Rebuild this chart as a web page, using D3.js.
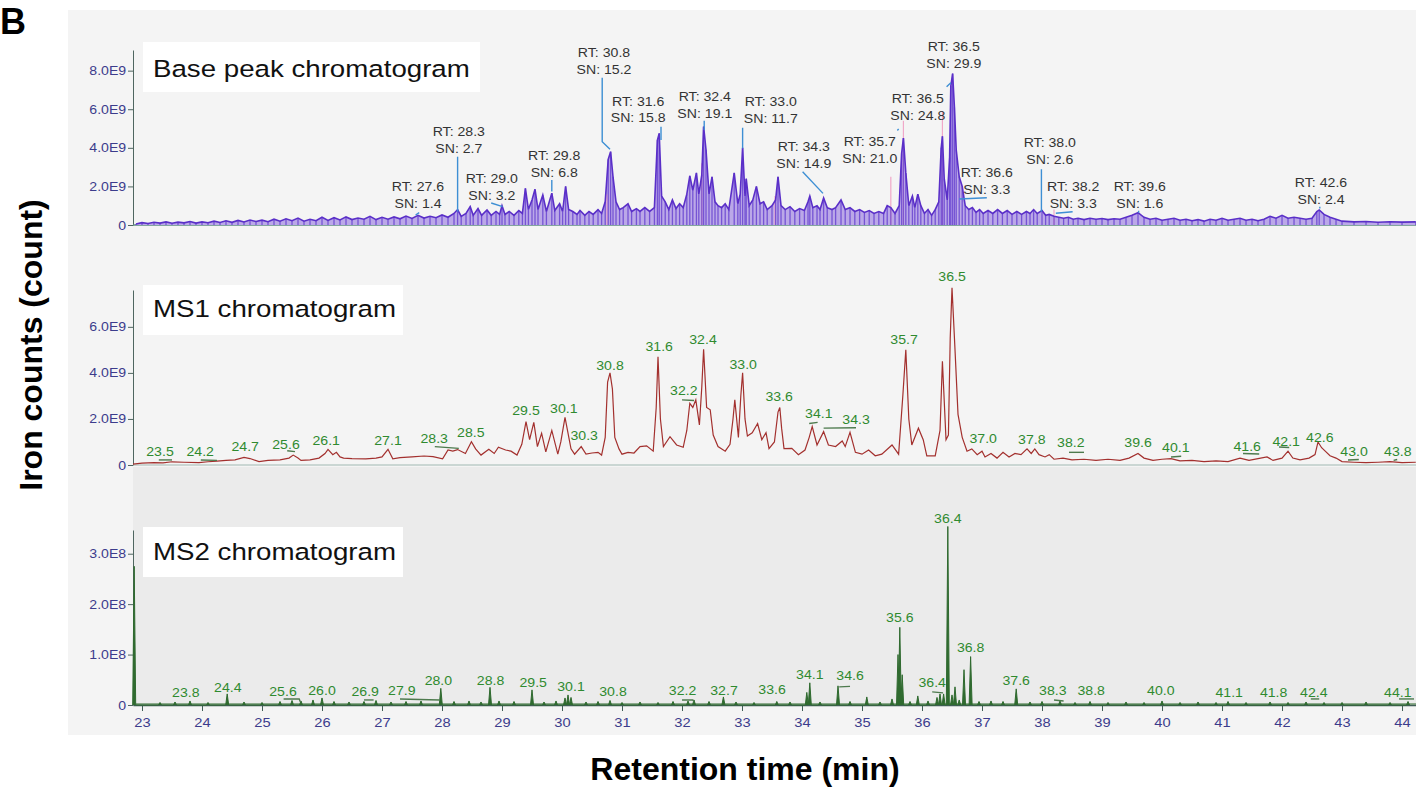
<!DOCTYPE html>
<html>
<head>
<meta charset="utf-8">
<script src="https://cdn.jsdelivr.net/npm/d3@7/dist/d3.min.js"></script>
<style>
  body { margin: 0; background: #fff; }
  text { font-family: "Liberation Sans", Arial, sans-serif; }
</style>
</head>
<body>
<svg id="chart" width="1416" height="787"></svg>
<script>
// ---- data (retention time in min, intensity in E9 / E8) ----
var rtTicks = d3.range(23, 45, 1);
var baseTicks = [0, 2, 4, 6, 8];
var ms1Ticks = [0, 2, 4, 6];
var ms2Ticks = [0, 1, 2, 3];

// base peak chromatogram, E9
var basePeak = [[22.9,0.05],[23.0,0.12],[23.1,0.08],[23.2,0.14],[23.3,0.1],[23.4,0.16],[23.5,0.09],[23.6,0.15],[23.7,0.11],[23.8,0.18],[23.9,0.1],[24.0,0.16],[24.1,0.12],[24.2,0.2],[24.3,0.13],[24.4,0.22],[24.5,0.14],[24.6,0.24],[24.7,0.16],[24.8,0.26],[24.9,0.18],[25.0,0.25],[25.1,0.17],[25.2,0.3],[25.3,0.2],[25.4,0.32],[25.5,0.22],[25.6,0.36],[25.7,0.2],[25.8,0.3],[25.9,0.22],[26.0,0.4],[26.1,0.24],[26.2,0.38],[26.3,0.26],[26.4,0.42],[26.5,0.28],[26.6,0.36],[26.7,0.3],[26.8,0.45],[26.9,0.28],[27.0,0.4],[27.1,0.3],[27.2,0.42],[27.3,0.32],[27.4,0.46],[27.5,0.34],[27.6,0.5],[27.7,0.36],[27.8,0.45],[27.9,0.38],[28.0,0.52],[28.1,0.4],[28.2,0.6],[28.26,0.8],[28.32,0.45],[28.4,0.6],[28.47,0.95],[28.52,0.5],[28.6,0.85],[28.66,0.5],[28.75,0.78],[28.82,0.5],[28.9,0.7],[28.96,0.55],[29.0,1.0],[29.05,0.55],[29.12,0.7],[29.2,0.5],[29.28,0.75],[29.34,0.6],[29.39,1.9],[29.44,0.8],[29.5,1.3],[29.55,1.85],[29.6,0.8],[29.68,1.55],[29.74,0.7],[29.83,1.65],[29.88,0.75],[29.96,1.1],[30.01,0.7],[30.06,2.0],[30.11,0.8],[30.18,0.7],[30.25,0.55],[30.3,0.75],[30.38,0.5],[30.45,0.7],[30.52,0.55],[30.6,0.8],[30.66,0.6],[30.72,1.2],[30.77,3.4],[30.81,3.8],[30.85,2.5],[30.9,1.2],[30.96,0.8],[31.02,0.9],[31.1,1.1],[31.16,0.7],[31.24,0.85],[31.3,0.7],[31.38,0.9],[31.46,0.7],[31.54,0.9],[31.59,4.4],[31.62,4.75],[31.66,1.5],[31.72,1.2],[31.78,0.8],[31.84,1.3],[31.9,0.85],[31.96,1.1],[32.02,0.9],[32.08,1.6],[32.13,2.55],[32.18,1.8],[32.24,2.7],[32.28,1.6],[32.33,2.6],[32.36,5.1],[32.4,3.9],[32.45,1.6],[32.5,2.5],[32.55,1.2],[32.6,1.0],[32.66,0.9],[32.72,1.1],[32.78,0.8],[32.87,2.7],[32.93,1.1],[32.97,1.6],[33.01,4.0],[33.05,1.5],[33.07,2.4],[33.12,1.0],[33.18,1.3],[33.24,2.0],[33.3,1.1],[33.36,1.2],[33.42,0.8],[33.5,1.0],[33.56,1.3],[33.6,2.5],[33.65,1.0],[33.72,0.8],[33.8,0.95],[33.88,0.7],[33.96,0.85],[34.04,0.75],[34.1,1.2],[34.13,1.5],[34.18,0.9],[34.25,1.0],[34.3,0.8],[34.36,1.4],[34.42,0.9],[34.5,0.8],[34.56,0.9],[34.65,1.3],[34.72,0.8],[34.8,0.9],[34.88,0.7],[34.96,0.8],[35.04,0.65],[35.12,0.75],[35.2,0.6],[35.28,0.7],[35.36,0.6],[35.42,1.0],[35.48,0.9],[35.55,0.6],[35.62,1.0],[35.66,3.7],[35.69,4.5],[35.73,2.7],[35.78,1.0],[35.84,1.5],[35.88,0.9],[35.93,1.6],[35.98,1.0],[36.04,0.6],[36.1,0.8],[36.16,0.5],[36.22,0.8],[36.28,1.2],[36.32,4.0],[36.34,4.6],[36.37,2.4],[36.42,1.3],[36.46,3.5],[36.48,7.2],[36.51,7.85],[36.54,6.1],[36.57,3.9],[36.62,2.5],[36.67,2.0],[36.72,1.0],[36.78,0.8],[36.84,0.9],[36.9,0.65],[36.96,0.8],[37.02,0.6],[37.1,0.75],[37.18,0.6],[37.26,0.8],[37.34,0.6],[37.42,0.75],[37.5,0.55],[37.58,0.7],[37.66,0.55],[37.74,0.7],[37.8,0.6],[37.86,0.8],[37.92,0.6],[38.0,0.75],[38.06,0.5],[38.12,0.55],[38.2,0.45],[38.28,0.4],[38.36,0.35],[38.44,0.4],[38.52,0.3],[38.6,0.35],[38.7,0.28],[38.8,0.35],[38.9,0.3],[39.0,0.34],[39.1,0.28],[39.2,0.32],[39.3,0.3],[39.4,0.4],[39.5,0.5],[39.6,0.64],[39.7,0.4],[39.8,0.3],[39.9,0.35],[40.0,0.25],[40.1,0.3],[40.2,0.35],[40.3,0.25],[40.4,0.3],[40.5,0.22],[40.6,0.28],[40.7,0.2],[40.8,0.3],[40.9,0.25],[41.0,0.35],[41.1,0.25],[41.2,0.3],[41.3,0.35],[41.4,0.25],[41.5,0.3],[41.6,0.22],[41.7,0.3],[41.8,0.45],[41.9,0.35],[42.0,0.5],[42.1,0.35],[42.2,0.4],[42.3,0.35],[42.4,0.3],[42.5,0.35],[42.58,0.7],[42.62,0.78],[42.7,0.55],[42.8,0.4],[42.9,0.3],[43.0,0.2],[43.2,0.16],[43.4,0.18],[43.6,0.14],[43.8,0.17],[44.0,0.15],[44.23,0.16]];

// faint pink traces seen behind the base peak trace, E9
var pinkSticks = [[30.75,1.6],[32.33,3.2],[33.55,1.5],[35.48,2.5],[35.69,5.4],[36.34,5.9],[38.2,0.8]];

// MS1 chromatogram, E9
var ms1 = [[22.85,0.04],[23.0,0.08],[23.2,0.1],[23.35,0.09],[23.5,0.14],[23.7,0.12],[23.95,0.1],[24.1,0.14],[24.25,0.17],[24.4,0.2],[24.55,0.22],[24.7,0.33],[24.8,0.28],[24.95,0.15],[25.1,0.2],[25.3,0.22],[25.45,0.3],[25.52,0.43],[25.6,0.3],[25.65,0.2],[25.8,0.22],[25.95,0.3],[26.05,0.5],[26.1,0.68],[26.18,0.45],[26.24,0.55],[26.3,0.35],[26.36,0.3],[26.5,0.28],[26.73,0.27],[26.9,0.3],[27.0,0.35],[27.1,0.68],[27.18,0.27],[27.3,0.32],[27.5,0.35],[27.7,0.39],[27.85,0.36],[28.01,0.27],[28.1,0.65],[28.18,0.6],[28.26,0.67],[28.39,0.5],[28.49,1.01],[28.56,0.7],[28.65,0.43],[28.78,0.68],[28.87,0.5],[28.94,0.77],[29.06,0.65],[29.15,0.6],[29.25,0.43],[29.33,0.9],[29.4,1.88],[29.46,1.1],[29.53,1.85],[29.59,0.8],[29.66,1.38],[29.73,0.57],[29.83,1.5],[29.93,0.47],[29.98,1.0],[30.05,2.07],[30.15,0.7],[30.21,0.47],[30.32,0.8],[30.4,0.47],[30.5,0.52],[30.6,0.55],[30.66,0.43],[30.72,1.2],[30.76,3.6],[30.8,4.0],[30.84,3.3],[30.88,1.2],[30.95,0.7],[31.0,0.47],[31.1,0.55],[31.2,0.52],[31.3,0.8],[31.41,0.83],[31.52,0.6],[31.57,2.5],[31.6,4.7],[31.64,2.0],[31.69,0.8],[31.8,1.23],[31.91,0.87],[32.02,0.77],[32.08,1.5],[32.13,2.68],[32.18,2.5],[32.23,2.83],[32.29,1.74],[32.33,3.4],[32.36,5.03],[32.41,2.5],[32.47,2.4],[32.52,1.3],[32.6,0.8],[32.72,0.6],[32.8,0.9],[32.85,2.0],[32.88,2.83],[32.94,1.2],[32.98,3.0],[33.01,4.0],[33.05,2.0],[33.09,1.26],[33.17,1.4],[33.26,1.8],[33.33,1.1],[33.4,1.4],[33.45,0.71],[33.54,1.0],[33.6,2.3],[33.63,2.5],[33.66,1.6],[33.7,0.71],[33.83,0.72],[33.94,0.45],[34.05,0.65],[34.12,1.2],[34.17,1.67],[34.25,0.87],[34.36,1.45],[34.44,0.87],[34.56,0.8],[34.67,1.04],[34.72,0.8],[34.8,1.42],[34.89,0.55],[35.0,0.47],[35.11,0.65],[35.22,0.4],[35.33,0.47],[35.5,0.87],[35.61,0.47],[35.68,3.0],[35.73,5.0],[35.78,2.0],[35.83,0.87],[35.94,1.6],[36.02,1.1],[36.08,0.4],[36.22,0.4],[36.3,1.5],[36.34,4.5],[36.4,1.1],[36.44,1.3],[36.47,5.5],[36.5,7.7],[36.55,5.0],[36.6,2.2],[36.67,1.2],[36.75,0.6],[36.83,0.7],[36.92,0.45],[37.0,0.6],[37.05,0.35],[37.15,0.5],[37.25,0.3],[37.35,0.55],[37.45,0.35],[37.55,0.5],[37.65,0.45],[37.75,0.7],[37.82,0.5],[37.88,0.7],[37.95,0.45],[38.05,0.35],[38.12,0.45],[38.2,0.25],[38.35,0.3],[38.5,0.22],[38.7,0.25],[38.9,0.2],[39.1,0.25],[39.3,0.2],[39.45,0.3],[39.6,0.5],[39.7,0.3],[39.85,0.2],[40.0,0.25],[40.15,0.28],[40.3,0.18],[40.5,0.2],[40.7,0.15],[40.9,0.18],[41.1,0.15],[41.3,0.3],[41.45,0.2],[41.6,0.28],[41.75,0.35],[41.85,0.2],[42.0,0.3],[42.1,0.6],[42.18,0.3],[42.3,0.22],[42.45,0.3],[42.55,0.45],[42.6,1.0],[42.66,0.75],[42.72,0.6],[42.8,0.4],[42.9,0.3],[43.0,0.15],[43.2,0.12],[43.4,0.1],[43.6,0.12],[43.8,0.15],[44.0,0.1],[44.23,0.12]];

// MS2 chromatogram peaks, E8
var ms2Peaks = [[22.87,2.75],[23.3,0.05],[23.55,0.06],[23.8,0.08],[24.1,0.05],[24.42,0.22],[24.7,0.06],[25.0,0.05],[25.3,0.07],[25.5,0.09],[25.65,0.08],[25.85,0.1],[26.0,0.14],[26.2,0.07],[26.45,0.06],[26.7,0.07],[26.9,0.09],[27.15,0.06],[27.4,0.07],[27.65,0.08],[27.98,0.33],[28.2,0.07],[28.45,0.08],[28.65,0.06],[28.8,0.35],[28.95,0.08],[29.2,0.07],[29.5,0.3],[29.7,0.06],[29.9,0.08],[30.05,0.14],[30.1,0.2],[30.15,0.15],[30.4,0.06],[30.6,0.07],[30.8,0.09],[31.0,0.05],[31.3,0.06],[31.6,0.05],[31.85,0.07],[32.1,0.08],[32.2,0.1],[32.45,0.07],[32.69,0.16],[32.9,0.06],[33.2,0.05],[33.58,0.07],[33.8,0.06],[34.08,0.25],[34.13,0.44],[34.3,0.06],[34.6,0.38],[34.8,0.07],[35.08,0.16],[35.3,0.06],[35.5,0.12],[35.6,1.0],[35.63,1.54],[35.67,0.6],[35.8,0.07],[35.93,0.18],[36.1,0.08],[36.25,0.15],[36.3,0.22],[36.36,0.22],[36.43,3.54],[36.5,0.2],[36.55,0.36],[36.62,0.1],[36.7,0.7],[36.81,0.96],[36.95,0.07],[37.15,0.08],[37.35,0.07],[37.57,0.32],[37.8,0.06],[38.0,0.07],[38.3,0.08],[38.55,0.05],[38.8,0.07],[39.1,0.05],[39.4,0.06],[39.7,0.05],[40.0,0.08],[40.3,0.05],[40.6,0.06],[40.9,0.05],[41.1,0.07],[41.4,0.05],[41.8,0.06],[42.1,0.05],[42.4,0.06],[42.7,0.05],[43.0,0.05],[43.4,0.06],[43.8,0.05],[44.1,0.07]];

// base peak annotations: RT, SN, label time, label level (E9)
var baseLabels = [["27.6","1.4",27.6,1.98],["28.3","2.7",28.28,4.83],["29.0","3.2",28.83,2.38],["29.8","6.8",29.87,3.58],["30.8","15.2",30.7,8.91],["31.6","15.8",31.27,6.42],["32.4","19.1",32.38,6.63],["33.0","11.7",33.48,6.37],["34.3","14.9",34.03,4.04],["35.7","21.0",35.13,4.3],["36.5","24.8",35.93,6.53],["36.5","29.9",36.53,9.22],["36.6","3.3",37.08,2.69],["38.0","2.6",38.13,4.25],["38.2","3.3",38.52,1.97],["39.6","1.6",39.63,1.97],["42.6","2.4",42.65,2.18]];
// leader lines, list of [t, v] points
var baseLeaders = [[[27.56,0.52],[27.62,0.64]],[[28.26,3.54],[28.26,0.69]],[[28.82,1.14],[29.01,0.95]],[[29.83,2.33],[29.83,1.73]],[[30.67,7.63],[30.67,4.32],[30.8,3.92]],[[31.65,5.09],[31.65,4.4]],[[32.37,5.4],[32.37,4.92]],[[33.01,5.04],[33.01,3.97]],[[34.01,2.76],[34.35,1.64]],[[35.59,4.9],[35.61,4.98]],[[36.41,7.17],[36.48,7.37]],[[36.62,1.35],[37.08,1.41]],[[37.99,2.89],[37.99,0.69]],[[38.23,0.61],[38.51,0.69]],[[39.61,0.64],[39.61,0.74]],[[42.63,0.85],[42.63,0.95]]];

// MS1 peak labels: text, label time, label level (E9)
var ms1Labels = [["23.5",23.3,0.57],["24.2",23.97,0.57],["24.7",24.72,0.78],["25.6",25.4,0.87],["26.1",26.07,1.04],["27.1",27.1,1.04],["28.3",27.87,1.13],["28.5",28.48,1.39],["29.5",29.4,2.35],["30.1",30.03,2.43],["30.3",30.37,1.26],["30.8",30.8,4.3],["31.6",31.62,5.13],["32.2",32.03,3.22],["32.4",32.35,5.43],["33.0",33.02,4.35],["33.6",33.62,2.96],["34.1",34.28,2.22],["34.3",34.9,1.96],["35.7",35.7,5.43],["36.5",36.5,8.17],["37.0",37.02,1.13],["37.8",37.83,1.09],["38.2",38.48,0.96],["39.6",39.6,0.96],["40.1",40.23,0.74],["41.6",41.42,0.78],["42.1",42.07,1.0],["42.6",42.63,1.17],["43.0",43.2,0.57],["43.8",43.93,0.57]];
var ms1Leaders = [[[23.28,0.22],[23.5,0.22]],[[23.98,0.22],[24.25,0.2]],[[25.42,0.62],[25.55,0.58]],[[27.88,0.8],[28.28,0.72]],[[32.0,2.83],[32.2,2.8]],[[34.12,1.8],[34.26,1.85]],[[34.36,1.6],[34.9,1.62]],[[38.45,0.55],[38.7,0.55]],[[40.15,0.35],[40.32,0.38]],[[41.35,0.5],[41.62,0.48]],[[41.95,0.78],[42.12,0.76]],[[43.1,0.22],[43.28,0.24]],[[43.86,0.2],[43.92,0.24]]];

// MS2 peak labels: text, label time, label level (E8)
var ms2Labels = [["23.8",23.73,0.24],["24.4",24.43,0.34],["25.6",25.35,0.26],["26.0",26.0,0.28],["26.9",26.72,0.26],["27.9",27.33,0.28],["28.0",27.94,0.48],["28.8",28.81,0.48],["29.5",29.52,0.44],["30.1",30.15,0.36],["30.8",30.85,0.26],["32.2",32.01,0.28],["32.7",32.7,0.28],["33.6",33.5,0.3],["34.1",34.13,0.61],["34.6",34.8,0.59],["35.6",35.63,1.74],["36.4",36.17,0.44],["36.4",36.43,3.7],["36.8",36.81,1.13],["37.6",37.57,0.48],["38.3",38.18,0.28],["38.8",38.82,0.28],["40.0",39.98,0.28],["41.1",41.12,0.25],["41.8",41.86,0.25],["42.4",42.53,0.25],["44.1",43.93,0.25]];
var ms2Leaders = [[[25.36,0.12],[25.62,0.12],[25.64,0.06]],[[26.7,0.1],[26.86,0.1]],[[27.3,0.12],[27.96,0.1]],[[32.0,0.1],[32.18,0.1],[32.2,0.06]],[[34.62,0.36],[34.8,0.37]],[[36.17,0.26],[36.35,0.24]],[[38.2,0.1],[38.36,0.08]],[[42.48,0.12],[42.62,0.12]],[[43.95,0.12],[44.2,0.12]]];

// ---- drawing ----
var svg = d3.select("#chart");
var STRETCH = "scale(1.13,1)";

var x = d3.scaleLinear().domain([22.85, 44.233]).range([133, 1416]);
var yBase = d3.scaleLinear().domain([0, 9.07]).range([225, 50]);
var yMs1 = d3.scaleLinear().domain([0, 7.6]).range([465, 290]);
var yMs2 = d3.scaleLinear().domain([0, 3.47]).range([705, 530]);

// backgrounds
svg.append("rect").attr("x", 68).attr("y", 10).attr("width", 1348).attr("height", 725).attr("fill", "#f4f4f4");
svg.append("rect").attr("x", 133).attr("y", 467).attr("width", 1283).attr("height", 238).attr("fill", "#ebebeb");

// y axes
function yAxis(scale, majors, suffix, minorStep) {
  var top = scale.domain()[1];
  var g = svg.append("g").attr("transform", "translate(133,0)");
  g.call(d3.axisLeft(scale).tickValues(d3.range(0, top, minorStep)).tickSize(3).tickFormat("").tickSizeOuter(0));
  g.call(d3.axisLeft(scale).tickValues(majors).tickSize(5).tickSizeOuter(0)
    .tickFormat(function (d) { return d === 0 ? "0" : d.toFixed(1) + suffix; }));
  g.selectAll("path, line").attr("stroke", "#4f6660");
  g.selectAll("text").attr("fill", "#3c3c8c").attr("font-size", 12.5)
    .attr("font-family", "Liberation Sans, Arial, sans-serif").attr("transform", STRETCH).attr("x", -6);
  return g;
}
yAxis(yBase, baseTicks, "E9", 0.5);
yAxis(yMs1, ms1Ticks, "E9", 0.5);
yAxis(yMs2, ms2Ticks, "E8", 0.1);

// panel baselines
svg.append("line").attr("x1", 133).attr("x2", 1416).attr("y1", yBase(0)).attr("y2", yBase(0))
  .attr("stroke", "#5e8c82").attr("stroke-width", 1.5);
svg.append("line").attr("x1", 133).attr("x2", 1416).attr("y1", yMs1(0)).attr("y2", yMs1(0))
  .attr("stroke", "#9fb8b2").attr("stroke-width", 1.2);

// x axis
var gx = svg.append("g").attr("transform", "translate(0," + yMs2(0) + ")");
gx.call(d3.axisBottom(x).tickValues(d3.range(22.9, 44.25, 0.1)).tickSize(3).tickFormat("").tickSizeOuter(0));
gx.call(d3.axisBottom(x).tickValues(rtTicks).tickSize(6).tickSizeOuter(0).tickFormat(d3.format("d")));
gx.selectAll("path, line").attr("stroke", "#3f5d55");
gx.select("path").attr("stroke-width", 1.5);
gx.selectAll("text").attr("fill", "#3c3c8c").attr("font-size", 13)
  .attr("font-family", "Liberation Sans, Arial, sans-serif").attr("transform", STRETCH).attr("y", 13);

// base peak trace
svg.append("path").datum(basePeak)
  .attr("d", d3.area().x(function (d) { return x(d[0]); }).y0(yBase(0)).y1(function (d) { return yBase(d[1]); }))
  .attr("fill", "#bba8e8");
svg.append("g").selectAll("line.pink").data(pinkSticks).enter().append("line")
  .attr("x1", function (d) { return x(d[0]); }).attr("x2", function (d) { return x(d[0]); })
  .attr("y1", yBase(0)).attr("y2", function (d) { return yBase(d[1]); })
  .attr("stroke", "#f0a8c8").attr("stroke-width", 1.2);
svg.append("g").selectAll("line.stick").data(basePeak).enter().append("line")
  .attr("x1", function (d) { return x(d[0]); }).attr("x2", function (d) { return x(d[0]); })
  .attr("y1", yBase(0)).attr("y2", function (d) { return yBase(d[1]); })
  .attr("stroke", "#6540d0").attr("stroke-width", 1.3).attr("opacity", 0.8);
svg.append("path").datum(basePeak)
  .attr("d", d3.line().x(function (d) { return x(d[0]); }).y(function (d) { return yBase(d[1]); }))
  .attr("fill", "none").attr("stroke", "#5a2fc8").attr("stroke-width", 1.6);

// MS1 trace
svg.append("path").datum(ms1)
  .attr("d", d3.line().x(function (d) { return x(d[0]); }).y(function (d) { return yMs1(d[1]); }))
  .attr("fill", "none").attr("stroke", "#a3302e").attr("stroke-width", 1.2);

// MS2 trace
var ms2Line = [];
ms2Peaks.forEach(function (p) { ms2Line.push([p[0] - 0.025, 0], [p[0], p[1]], [p[0] + 0.025, 0]); });
svg.append("path").datum(ms2Line)
  .attr("d", d3.line().x(function (d) { return x(d[0]); }).y(function (d) { return yMs2(d[1]); }))
  .attr("fill", "#2f6a2f").attr("stroke", "#2f6a2f").attr("stroke-width", 1);
svg.append("line").attr("x1", x(22.9)).attr("x2", 1416).attr("y1", yMs2(0.02)).attr("y2", yMs2(0.02))
  .attr("stroke", "#2f6a2f").attr("stroke-width", 1.2);

// leaders
function drawLeaders(list, y, color) {
  svg.append("g").selectAll("path").data(list).enter().append("path")
    .attr("d", d3.line().x(function (d) { return x(d[0]); }).y(function (d) { return y(d[1]); }))
    .attr("fill", "none").attr("stroke", color).attr("stroke-width", 1.4);
}
drawLeaders(baseLeaders, yBase, "#3d8fd4");
drawLeaders(ms1Leaders, yMs1, "#4d7a4d");
drawLeaders(ms2Leaders, yMs2, "#4d7a4d");

// base peak annotations
var ann = svg.append("g").selectAll("text").data(baseLabels).enter().append("text")
  .attr("transform", function (d) { return "translate(" + x(d[2]) + "," + yBase(d[3]) + ") " + STRETCH; })
  .attr("text-anchor", "middle").attr("font-size", 12.5).attr("fill", "#333");
ann.append("tspan").attr("x", 0).attr("dy", "0.35em").text(function (d) { return "RT: " + d[0]; });
ann.append("tspan").attr("x", 0).attr("dy", 16.5).text(function (d) { return "SN: " + d[1]; });

// MS1 / MS2 peak labels
function peakLabels(list, y) {
  svg.append("g").selectAll("text").data(list).enter().append("text")
    .attr("transform", function (d) { return "translate(" + x(d[1]) + "," + y(d[2]) + ") " + STRETCH; })
    .attr("text-anchor", "middle").attr("dy", "0.35em").attr("font-size", 12.5).attr("fill", "#2f8a2f")
    .text(function (d) { return d[0]; });
}
peakLabels(ms1Labels, yMs1);
peakLabels(ms2Labels, yMs2);

// panel title boxes
var titles = [["Base peak chromatogram", 42, 337, 77], ["MS1 chromatogram", 285, 260, 317], ["MS2 chromatogram", 527, 260, 560]];
titles.forEach(function (t) {
  svg.append("rect").attr("x", 143).attr("y", t[1]).attr("width", t[2]).attr("height", 50).attr("fill", "#fff");
  svg.append("text").attr("transform", "translate(153," + t[3] + ") " + STRETCH)
    .attr("font-size", 24.5).attr("fill", "#111").text(t[0]);
});

// axis titles and panel letter
svg.append("text").attr("transform", "translate(42,345) rotate(-90)").attr("text-anchor", "middle")
  .attr("font-size", 32).attr("font-weight", "bold").attr("fill", "#000").text("Iron counts (count)");
svg.append("text").attr("x", 745).attr("y", 780).attr("text-anchor", "middle")
  .attr("font-size", 32).attr("font-weight", "bold").attr("fill", "#000").text("Retention time (min)");
svg.append("text").attr("x", 0).attr("y", 34).attr("font-size", 36).attr("font-weight", "bold")
  .attr("fill", "#000").text("B");
</script>
</body>
</html>
